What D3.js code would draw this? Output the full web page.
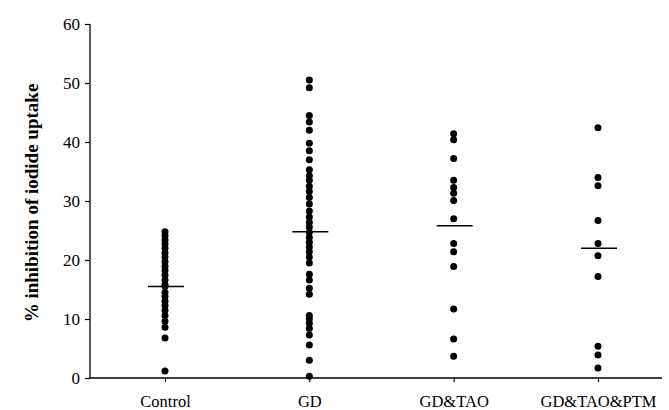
<!DOCTYPE html>
<html>
<head>
<meta charset="utf-8">
<script src="https://cdn.jsdelivr.net/npm/d3@7"></script>
<style>
  body { margin: 0; background: #fff; }
  text { font-family: "Liberation Serif", "Times New Roman", serif; }
</style>
</head>
<body>
<div id="chart"></div>
<script>
const groups = ['Control', 'GD', 'GD&TAO', 'GD&TAO&PTM']

const controlVals = [24.8, 24.1, 23.4, 22.7, 22.0, 21.2, 20.5, 19.7, 18.9, 18.2, 17.4, 16.6, 15.8, 15.5,
                     14.5, 13.8, 13.0, 12.3, 11.5, 10.6, 9.6, 8.6, 6.8, 1.2]
const gdVals = [50.5, 49.2, 44.5, 43.4, 42.0, 39.8, 38.5, 37.0, 35.3, 34.3, 33.5, 32.5, 31.6, 30.6,
                29.5, 28.3, 27.3, 26.4, 25.6, 24.7, 23.8, 23.0, 22.2, 21.4, 20.5, 19.5, 17.6, 16.6,
                15.2, 14.2, 10.6, 10.0, 9.3, 8.4, 7.3, 5.6, 3.0, 0.3]
const taoVals = [41.4, 40.4, 37.2, 33.5, 32.3, 31.3, 30.1, 27.0, 22.8, 21.4, 18.9, 11.7, 6.6, 3.7]
const ptmVals = [42.4, 34.0, 32.6, 26.7, 22.8, 20.7, 17.2, 5.4, 3.9, 1.7]
const means = [15.5, 24.8, 25.8, 22.0]
const yTicks = [0, 10, 20, 30, 40, 50, 60]

const seriesVals = [controlVals, gdVals, taoVals, ptmVals]

const W = 669, H = 410
const svg = d3.select('#chart').append('svg')
  .attr('width', W)
  .attr('height', H)

const x = d3.scalePoint()
  .domain(groups)
  .range([165, 598])

const y = d3.scaleLinear()
  .domain([0, 60])
  .range([378, 24])

// y axis
const yAxis = d3.axisLeft(y).tickValues(yTicks).tickSize(5).tickPadding(5)
const gy = svg.append('g')
  .attr('transform', 'translate(90,0)')
  .call(yAxis)
gy.select('.domain').attr('d', 'M0,' + y(60) + 'V' + y(0)).attr('stroke', '#000').attr('stroke-width', 1.3)
gy.selectAll('.tick line').attr('stroke', '#000').attr('stroke-width', 1.2)
gy.selectAll('.tick text')
  .style('font-family', '"Liberation Serif", serif')
  .style('font-size', '17px')
  .attr('fill', '#000')

// x axis
const xAxis = d3.axisBottom(x).tickSize(4).tickPadding(13)
const gx = svg.append('g')
  .attr('transform', 'translate(0,' + y(0) + ')')
  .call(xAxis)
gx.select('.domain').attr('d', 'M90,0H662').attr('stroke', '#000').attr('stroke-width', 1.3)
gx.selectAll('.tick line').attr('stroke', '#000').attr('stroke-width', 1.2)
gx.selectAll('.tick text')
  .style('font-family', '"Liberation Serif", serif')
  .style('font-size', '16.5px')
  .attr('fill', '#000')

// y title
svg.append('text')
  .attr('transform', 'translate(38,' + (y(30) + 2) + ') rotate(-90)')
  .attr('text-anchor', 'middle')
  .style('font-size', '19px')
  .style('font-weight', 'bold')
  .text('% inhibition of iodide uptake')

// dots
const pts = []
seriesVals.forEach((vals, i) => {
  vals.forEach(v => pts.push({ g: groups[i], v: v }))
})
svg.append('g')
  .selectAll('circle')
  .data(pts)
  .join('circle')
    .attr('cx', d => x(d.g))
    .attr('cy', d => y(d.v))
    .attr('r', 3.5)
    .attr('fill', '#000')

// mean lines
svg.append('g')
  .selectAll('line')
  .data(means)
  .join('line')
    .attr('x1', (d, i) => x(groups[i]) - 17)
    .attr('x2', (d, i) => x(groups[i]) + 19)
    .attr('y1', d => y(d))
    .attr('y2', d => y(d))
    .attr('stroke', '#000')
    .attr('stroke-width', 1.6)
</script>
</body>
</html>
